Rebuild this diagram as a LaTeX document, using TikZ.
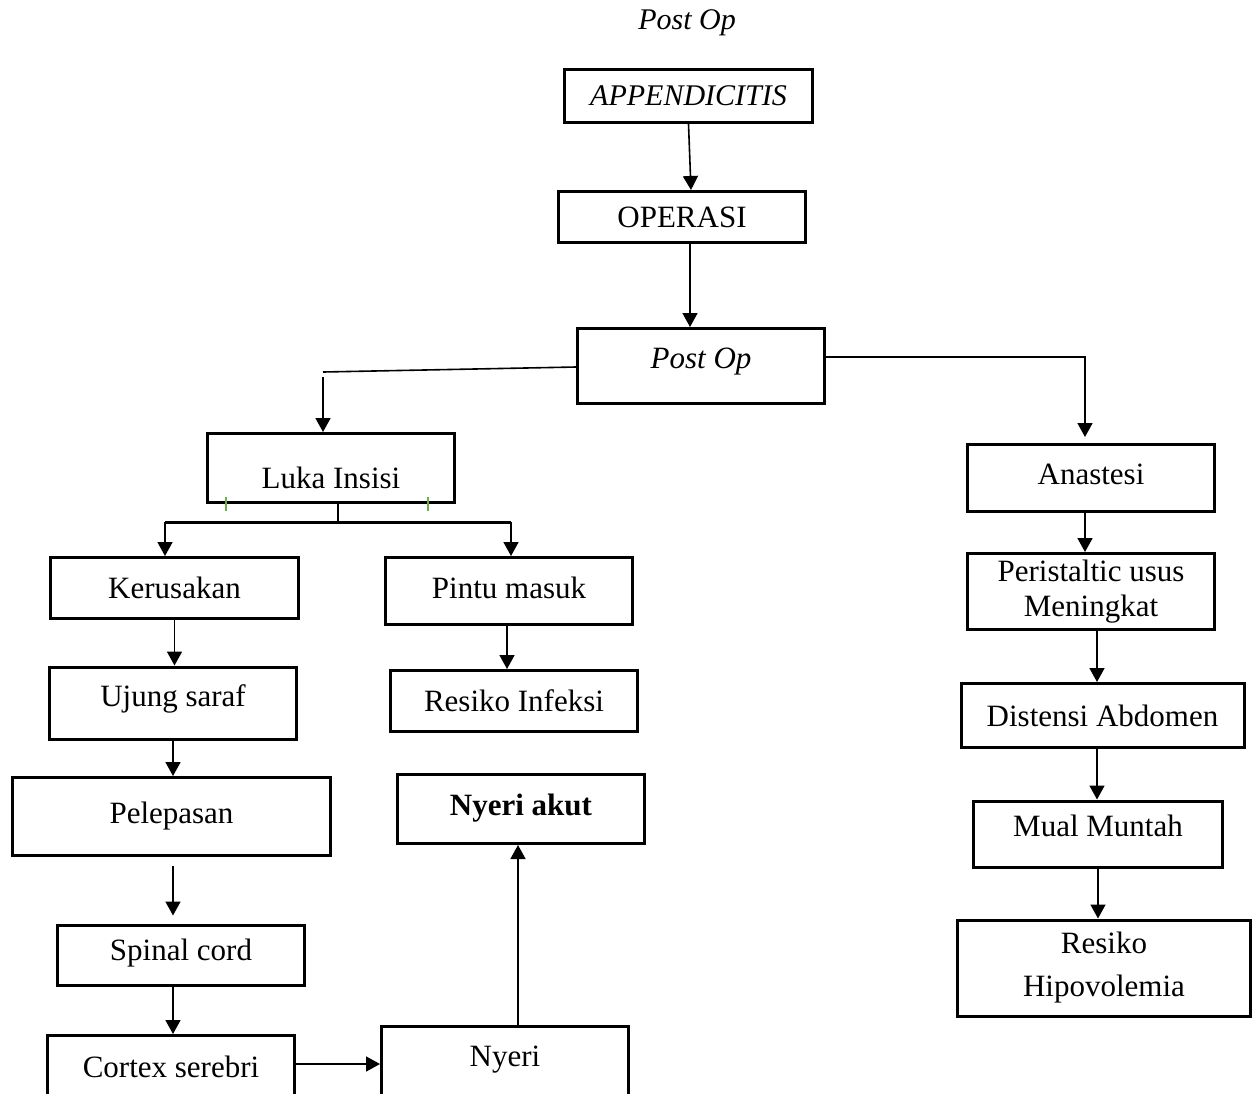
\documentclass[tikz,border=0pt]{standalone}
\usepackage{fontspec}
\setmainfont{Liberation Serif}
\usetikzlibrary{arrows.meta}

\begin{document}
\begin{tikzpicture}[x=1pt, y=-1pt,
        box/.style={rectangle, draw, line width=3pt, minimum width=247pt, inner sep=2pt, font=\fontsize{31}{36}\selectfont},
        textup/.style={text height=20.5pt, text depth=#1},
        textdown/.style={text height=#1, text depth=0pt},
        link/.style={line width=1.6pt},
        flow/.style={link, -{Triangle[length=14pt, width=15pt]}},
        tick/.style={line width=1.5pt, draw={rgb,255:red,112;green,173;blue,71}}]
        \useasboundingbox (0,0) rectangle (1253,1093);

        \node (title) at (687,23) {\fontsize{30}{36}\selectfont\itshape Post Op};
        \node (appendicitis) [box, minimum width=248pt, minimum height=53pt, font=\fontsize{30}{36}\selectfont\itshape] at (688.5,96) {APPENDICITIS};
        \node (operasi) [box, minimum height=51pt] at (682,217) {OPERASI};
        \node (postop) [box, minimum height=75pt, textup=16pt, font=\fontsize{31}{36}\selectfont\itshape] at (701,366) {Post Op};
        \node (luka) [box, minimum height=69pt, textdown=40pt] at (331,468) {Luka Insisi};
        \node (anastesi) [box, minimum height=67pt, textup=8pt] at (1091,478) {Anastesi};

        \node (kerusakan) [box, minimum width=248pt, minimum height=61pt] at (174.5,588) {Kerusakan};
        \node (ujung) [box, minimum height=72pt, textup=14pt] at (173,703) {Ujung saraf};
        \node (pelepasan) [box, minimum width=318pt, minimum height=78pt] at (171.5,816.5) {Pelepasan};
        \node (spinal) [box, minimum height=60pt, textup=10pt] at (181,955) {Spinal cord};
        \node (cortex) [box, minimum height=63pt] at (171,1067) {Cortex serebri};

        \node (pintu) [box, minimum height=67pt, textup=6pt] at (509,591) {Pintu masuk};
        \node (infeksi) [box, minimum height=61pt] at (514,701) {Resiko Infeksi};
        \node (akut) [box, minimum height=69pt, textup=8pt] at (521,809) {\bfseries Nyeri akut};
        \node (nyeri) [box, minimum height=72pt, textup=12pt] at (505,1062.5) {Nyeri};

        \node (peristaltic) [box, minimum height=76pt, align=center, font=\fontsize{31}{35}\selectfont] at (1091,591.5) {Peristaltic usus\\Meningkat};
        \node (distensi) [box, minimum width=283pt, minimum height=64pt] at (1102.5,715.5) {Distensi Abdomen};
        \node (mual) [box, minimum width=249pt, minimum height=66pt, textup=16pt] at (1098,834) {Mual Muntah};
        \node (hipovolemia) [box, minimum width=293pt, minimum height=96pt, align=center, font=\fontsize{31}{43}\selectfont] at (1104,968) {Resiko\\Hipovolemia};

        \coordinate (bend) at (323,372);
        \coordinate (split) at (338,522);
        \coordinate (splitl) at (165,522);
        \coordinate (splitr) at (511,522);

        \draw[flow] (appendicitis.south) -- ([xshift=9pt]operasi.north);
        \draw[flow] ([xshift=8pt]operasi.south) -- ([xshift=8pt]operasi.south |- postop.north);
        \draw[link] ([yshift=-1pt]postop.west) -- (bend);
        \draw[flow] ([yshift=-5pt]bend) -- (bend |- luka.north);
        \draw[flow] ([yshift=9pt]postop.east) -| ([xshift=-6pt,yshift=6pt]anastesi.north);

        \draw[link] (luka.south -| split) -- (split);
        \draw[link, line width=3pt] (splitl) -- (splitr);
        \draw[flow] (splitl) -- (splitl |- kerusakan.north);
        \draw[flow] (splitr) -- (splitr |- pintu.north);
        \draw[tick] ([xshift=-105pt,yshift=7pt]luka.south) -- ++(0,14);
        \draw[tick] ([xshift=97pt,yshift=7pt]luka.south) -- ++(0,14);

        \draw[flow] (kerusakan.south) -- (kerusakan.south |- ujung.north);
        \draw[flow] (ujung.south) -- (ujung.south |- pelepasan.north);
        \draw[flow] ([xshift=1.5pt,yshift=-9pt]pelepasan.south) -- ([xshift=1.5pt,yshift=8pt]pelepasan.south |- spinal.north);
        \draw[flow] ([xshift=-8pt]spinal.south) -- ([xshift=-8pt]spinal.south |- cortex.north);
        \draw[flow] ([yshift=3pt]cortex.east) -- ([yshift=3pt]cortex.east -| nyeri.west);
        \draw[flow] ([xshift=13pt]nyeri.north) -- ([xshift=13pt]nyeri.north |- akut.south);
        \draw[flow] ([xshift=-2pt]pintu.south) -- ([xshift=-2pt]pintu.south |- infeksi.north);

        \draw[flow] ([xshift=-6pt]anastesi.south) -- ([xshift=-6pt]anastesi.south |- peristaltic.north);
        \draw[flow] ([xshift=6pt]peristaltic.south) -- ([xshift=6pt]peristaltic.south |- distensi.north);
        \draw[flow] ([xshift=-5.5pt]distensi.south) -- ([xshift=-5.5pt]distensi.south |- mual.north);
        \draw[flow] (mual.south) -- (mual.south |- hipovolemia.north);
    \end{tikzpicture}
\end{document}
